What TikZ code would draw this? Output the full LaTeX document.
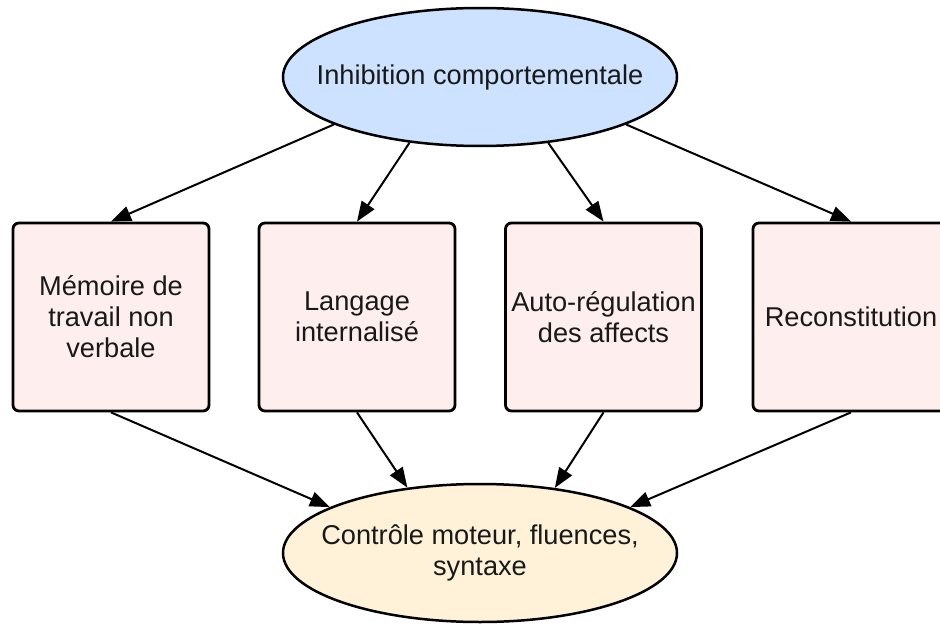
\documentclass[tikz,border=0pt]{standalone}
\usepackage{fontspec}
\setmainfont{Liberation Sans}
\usetikzlibrary{shapes.geometric,arrows.meta}
\definecolor{topfill}{RGB}{204,226,255}
\definecolor{boxfill}{RGB}{255,238,238}
\definecolor{botfill}{RGB}{255,242,216}
\tikzset{
  txt/.style={font=\fontsize{27.2}{31}\selectfont, align=center, text=black!90},
  oval/.style={ellipse, draw=black, line width=2.5pt, minimum width=394pt, minimum height=138pt, inner sep=0pt},
  stepbox/.style={rectangle, rounded corners=6pt, draw=black, line width=2.8pt, fill=boxfill, minimum width=196pt, minimum height=188pt, inner sep=0pt, txt},
  conn/.style={line width=2pt, -{Triangle[length=20pt,width=15pt]}}
}
\begin{document}
\begin{tikzpicture}[x=1pt,y=-1pt]
\useasboundingbox (0,0) rectangle (940,626);
\clip (0,0) rectangle (940,626);
\node[oval, fill=topfill, label={[txt]center:{Inhibition comportementale}}] (top) at (480,77) {};
\node[oval, fill=botfill, label={[txt]center:{Contrôle moteur, fluences,\\syntaxe}}] (bot) at (480,553) {};
\node[stepbox] (b1) at (111,317) {Mémoire de\\travail non\\verbale};
\node[stepbox] (b2) at (357,317) {Langage\\internalisé};
\node[stepbox] (b3) at (603.5,317) {Auto-régulation\\des affects};
\node[stepbox] (b4) at (851,317) {Reconstitution};
\draw[conn] (top.198.8) -- (b1.north);
\draw[conn] (top.223) -- (b2.north);
\draw[conn] (top.-44) -- (b3.north);
\draw[conn] (top.-18.4) -- (b4.north);
\draw[conn] (b1.south) -- (bot.163.2);
\draw[conn] (b2.south) -- (bot.138.6);
\draw[conn] (b3.south) -- (bot.41.4);
\draw[conn] (b4.south) -- (bot.17.5);
\end{tikzpicture}
\end{document}
